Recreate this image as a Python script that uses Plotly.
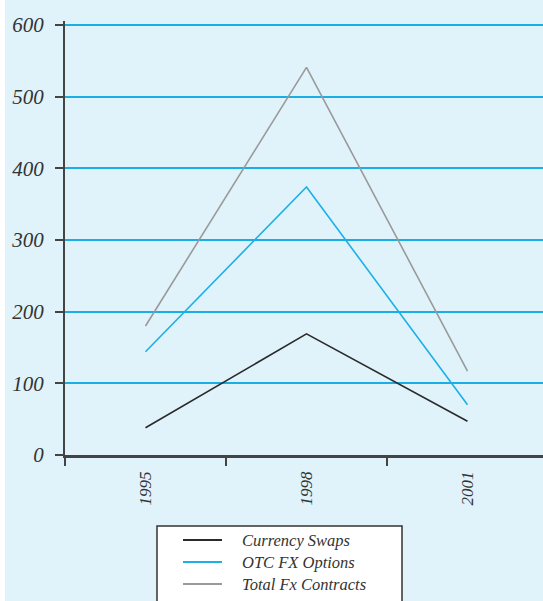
import plotly.graph_objects as go

years = ["1995", "1998", "2001"]
currency_swaps = [38, 169, 47]
otc_fx_options = [144, 374, 70]
total_fx_contracts = [180, 541, 117]
y_ticks = [0, 100, 200, 300, 400, 500, 600]

series = [
    ("Currency Swaps", currency_swaps, "#2a2a2a"),
    ("OTC FX Options", otc_fx_options, "#1cb0e8"),
    ("Total Fx Contracts", total_fx_contracts, "#9a9a9a"),
]

W, H = 543, 601
L, R, T, B = 65, 0, 21, 146
pw, ph = W - L - R, H - T - B


def px_x(p):
    return (p - L) / pw


def px_y(p):
    return (H - B - p) / ph


serif = "Liberation Serif, Times New Roman, serif"

fig = go.Figure()
for name, vals, col in series:
    fig.add_trace(go.Scatter(x=years, y=vals, mode="lines", name=name,
                             line=dict(color=col, width=1.6), showlegend=False))

shapes = [
    dict(type="rect", xref="paper", yref="paper", x0=px_x(-5), x1=px_x(5),
         y0=px_y(-10), y1=px_y(620), fillcolor="white", line=dict(width=0), layer="above"),
    dict(type="rect", xref="paper", yref="paper", x0=px_x(157), x1=px_x(402),
         y0=px_y(640), y1=px_y(526), fillcolor="white",
         line=dict(color="#333333", width=1.5), layer="above"),
]
annotations = []
rows = [540, 562, 584]
for (name, vals, col), ry in zip(series, rows):
    shapes.append(dict(type="line", xref="paper", yref="paper",
                       x0=px_x(183), x1=px_x(222), y0=px_y(ry), y1=px_y(ry),
                       line=dict(color=col, width=2), layer="above"))
    annotations.append(dict(xref="paper", yref="paper", x=px_x(240), y=px_y(ry),
                            xanchor="left", yanchor="middle", text="<i>" + name + "</i>",
                            showarrow=False,
                            font=dict(family=serif, size=16.5, color="#333333")))

fig.update_layout(
    width=W, height=H,
    margin=dict(l=L, r=R, t=T, b=B, pad=0),
    paper_bgcolor="#e0f2fa",
    plot_bgcolor="#e0f2fa",
    shapes=shapes,
    annotations=annotations,
    showlegend=False,
    xaxis=dict(
        type="category", range=[-0.5, 2.469], tickson="boundaries",
        tickvals=years, ticktext=["<i>" + y + "</i>" for y in years],
        ticks="outside", ticklen=8, tickwidth=1.5, tickcolor="#444444",
        showline=True, linecolor="#444444", linewidth=2.5,
        showgrid=False, tickangle=-90, ticklabelstandoff=7,
        tickfont=dict(family=serif, size=17, color="#333333"),
    ),
    yaxis=dict(
        range=[0, 605.6], tickvals=y_ticks,
        ticktext=["<i>" + str(v) + "</i>" for v in y_ticks],
        ticks="outside", ticklen=8, tickwidth=1.5, tickcolor="#444444",
        showline=True, linecolor="#444444", linewidth=2,
        showgrid=True, gridcolor="#1aaee6", gridwidth=1.5, zeroline=False,
        ticklabelstandoff=7,
        tickfont=dict(family=serif, size=21, color="#333333"),
    ),
)

fig.write_html("out.html", config={"displayModeBar": False},
               post_script="document.body.style.margin='0';")
